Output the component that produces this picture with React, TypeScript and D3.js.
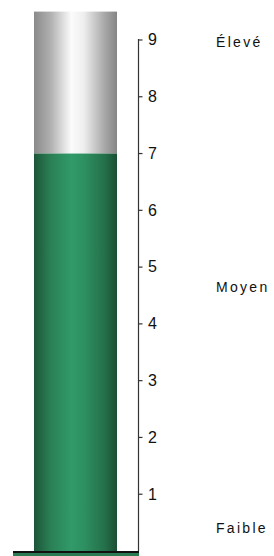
import * as d3 from 'd3';
import React from 'react';

const ticks = [1, 2, 3, 4, 5, 6, 7, 8, 9];
const value = 7;
const maxValue = 9.5;
const levels = ['Élevé', 'Moyen', 'Faible'];
const levelValues = [8.96, 4.65, 0.41];

const font = "'Liberation Sans', Arial, sans-serif";

const App: React.FC = () => {
    const width = 274;
    const height = 556;
    const y = d3.scaleLinear().domain([0, maxValue]).range([551, 11.6]);
    const tubeX = 34;
    const tubeW = 83;
    const axisX = 138.5;

    const grayStops = [
        [0, '#8a8a8a'],
        [0.2, '#b0b0b0'],
        [0.45, '#fbfbfb'],
        [0.6, '#eeeeee'],
        [0.85, '#a8a8a8'],
        [1, '#858585'],
    ];
    const greenStops = [
        [0, '#1c5538'],
        [0.2, '#2a8055'],
        [0.45, '#319a68'],
        [0.6, '#2e9061'],
        [0.85, '#24704a'],
        [1, '#1a4f34'],
    ];

    return (
        <svg width={width} height={height} style={{ position: 'absolute', left: 0, top: 0 }}>
            <defs>
                <linearGradient id="gray" x1="0" x2="1" y1="0" y2="0">
                    {grayStops.map(([o, c]) => (
                        <stop key={o as number} offset={o as number} stopColor={c as string} />
                    ))}
                </linearGradient>
                <linearGradient id="green" x1="0" x2="1" y1="0" y2="0">
                    {greenStops.map(([o, c]) => (
                        <stop key={o as number} offset={o as number} stopColor={c as string} />
                    ))}
                </linearGradient>
            </defs>
            <rect x={tubeX} y={y(maxValue)} width={tubeW} height={y(value) - y(maxValue)} fill="url(#gray)" />
            <rect x={tubeX} y={y(value)} width={tubeW} height={y(0) - y(value)} fill="url(#green)" />
            <rect x={13} y={y(0) + 2} width={126} height={4} fill="#2a7a52" />
            <line x1={13} x2={139} y1={y(0) + 1} y2={y(0) + 1} stroke="#111" strokeWidth={2} />
            <line x1={axisX} x2={axisX} y1={y(9) - 1} y2={y(0)} stroke="#333" strokeWidth={1.2} />
            {ticks.map((t) => (
                <g key={t} transform={`translate(0,${y(t)})`}>
                    <line x1={axisX} x2={axisX + 4} y1={0} y2={0} stroke="#333" strokeWidth={1.2} />
                    <text x={148} dy="0.33em" fontFamily={font} fontSize={16} fill="#111">
                        {t}
                    </text>
                </g>
            ))}
            {levels.map((l, i) => (
                <text
                    key={l}
                    x={216}
                    y={y(levelValues[i])}
                    dy="0.35em"
                    fontFamily={font}
                    fontSize={14}
                    letterSpacing={2.3}
                    fill="#111"
                >
                    {l}
                </text>
            ))}
        </svg>
    );
};

export default App;
